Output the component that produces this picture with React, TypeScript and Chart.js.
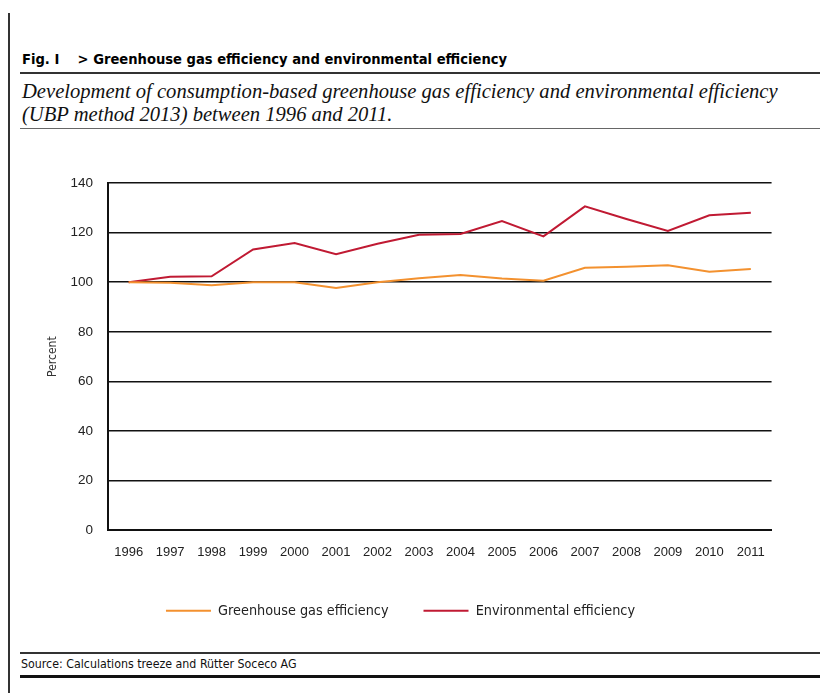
import React, { useEffect, useRef } from 'react';
import { Chart, registerables } from 'chart.js';

Chart.register(...registerables);

const years = ['1996', '1997', '1998', '1999', '2000', '2001', '2002', '2003', '2004', '2005', '2006', '2007', '2008', '2009', '2010', '2011'];
const greenhouseGasEfficiency = [100, 99.8, 98.8, 100, 100, 97.7, 100, 101.6, 102.9, 101.5, 100.6, 105.8, 106.3, 106.9, 104.2, 105.3];
const environmentalEfficiency = [100, 102.2, 102.4, 113.2, 115.8, 111.3, 115.5, 119.2, 119.5, 124.7, 118.5, 130.6, 125.5, 120.7, 127, 128];
const seriesNames = ['Greenhouse gas efficiency', 'Environmental efficiency'];

const NARROW = "'DejaVu Sans Condensed', 'Liberation Sans', sans-serif";
const SANS = "'Liberation Sans', Arial, sans-serif";

export default function App() {
  const ref = useRef<HTMLCanvasElement | null>(null);

  useEffect(() => {
    if (!ref.current) return;
    const chart = new Chart(ref.current, {
      type: 'line',
      data: {
        labels: years,
        datasets: [
          {
            label: seriesNames[0],
            data: greenhouseGasEfficiency,
            borderColor: '#F3912F',
            backgroundColor: '#F3912F',
            borderWidth: 2,
            pointRadius: 0,
            tension: 0,
          },
          {
            label: seriesNames[1],
            data: environmentalEfficiency,
            borderColor: '#C01A33',
            backgroundColor: '#C01A33',
            borderWidth: 2,
            pointRadius: 0,
            tension: 0,
          },
        ],
      },
      options: {
        animation: false,
        responsive: false,
        maintainAspectRatio: false,
        layout: { padding: { top: 19, right: 6, bottom: 4, left: 0 } },
        plugins: {
          legend: {
            position: 'bottom',
            labels: {
              usePointStyle: true,
              pointStyle: 'line',
              pointStyleWidth: 45,
              padding: 35,
              color: '#222',
              font: { family: NARROW, size: 14.3 },
            },
          },
          tooltip: { enabled: false },
        },
        scales: {
          x: {
            offset: true,
            grid: { display: false, drawTicks: false },
            border: { display: true, color: '#111', width: 2 },
            ticks: { padding: 15, color: '#222', font: { family: SANS, size: 13 }, maxRotation: 0, autoSkip: false },
            afterFit: (s: any) => { s.height -= 7; },
          },
          y: {
            min: 0,
            max: 140,
            ticks: { stepSize: 20, padding: 15, color: '#222', font: { family: SANS, size: 13.5 } },
            grid: { color: '#111', lineWidth: 1.5, drawTicks: false },
            border: { display: true, color: '#111', width: 2 },
            title: {
              display: true,
              text: 'Percent',
              color: '#333',
              font: { family: NARROW, size: 12 },
              padding: { top: 19, bottom: -5 },
            },
          },
        },
      },
    });
    return () => chart.destroy();
  }, []);

  return (
    <div style={{ position: 'absolute', left: 0, top: 0, width: 820, height: 693, background: '#fff', overflow: 'hidden' }}>
      <div style={{ position: 'absolute', left: 8, top: 13, width: 2, height: 680, background: '#333' }} />
      <div style={{ position: 'absolute', left: 22, top: 50, fontFamily: NARROW, fontWeight: 'bold', fontSize: 14.6, whiteSpace: 'pre', color: '#000' }}>
        {'Fig. I    > Greenhouse gas efficiency and environmental efficiency'}
      </div>
      <div style={{ position: 'absolute', left: 20, top: 72, width: 800, height: 2, background: '#333' }} />
      <div style={{ position: 'absolute', left: 22, top: 80, fontFamily: "'Liberation Serif', 'Times New Roman', serif", fontStyle: 'italic', fontSize: 20.6, lineHeight: '23px', color: '#111', width: 798, whiteSpace: 'pre' }}>
        {'Development of consumption-based greenhouse gas efficiency and environmental efficiency'}
        <br />
        {'(UBP method 2013) between 1996 and 2011.'}
      </div>
      <div style={{ position: 'absolute', left: 20, top: 128, width: 800, height: 1, background: '#666' }} />
      <canvas ref={ref} width={753} height={472} style={{ position: 'absolute', left: 27, top: 160, width: 753, height: 472 }} />
      <div style={{ position: 'absolute', left: 20, top: 652, width: 800, height: 2, background: '#333' }} />
      <div style={{ position: 'absolute', left: 21, top: 657, fontFamily: NARROW, fontSize: 12.3, color: '#111', whiteSpace: 'pre' }}>
        Source: Calculations treeze and Rütter Soceco AG
      </div>
      <div style={{ position: 'absolute', left: 20, top: 675, width: 800, height: 3, background: '#111' }} />
    </div>
  );
}
